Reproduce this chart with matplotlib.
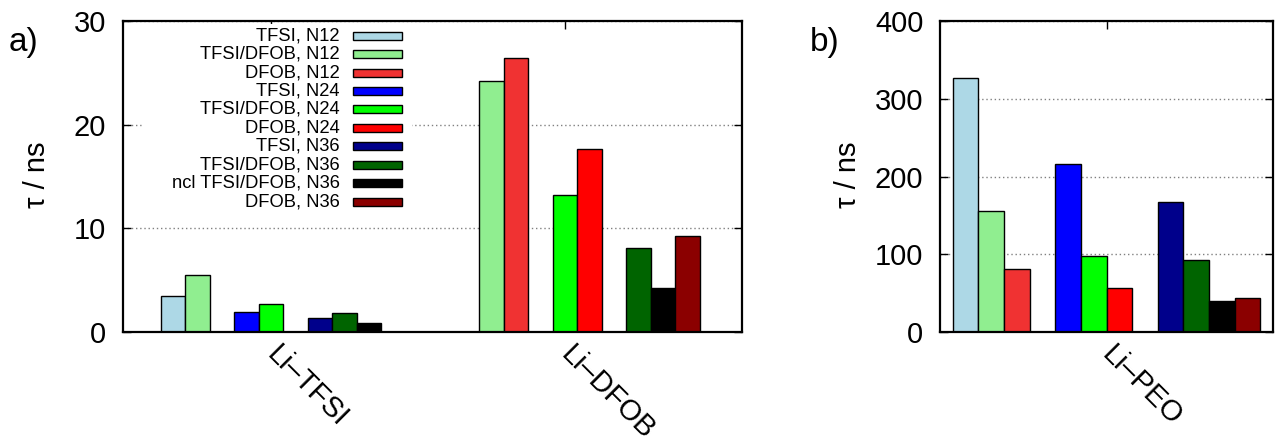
import matplotlib
matplotlib.use("Agg")
import matplotlib.pyplot as plt
from matplotlib.patches import Rectangle

plt.rcParams['font.family'] = ['Liberation Sans', 'DejaVu Sans']

series = ['TFSI, N12', 'TFSI/DFOB, N12', 'DFOB, N12',
          'TFSI, N24', 'TFSI/DFOB, N24', 'DFOB, N24',
          'TFSI, N36', 'TFSI/DFOB, N36', 'ncl TFSI/DFOB, N36', 'DFOB, N36']
colors = ['#add8e6', '#90ee90', '#f03232',
          '#0000ff', '#00ff00', '#ff0000',
          '#00008b', '#006400', '#000000', '#8b0000']

groups_a = ['Li\u2013TFSI', 'Li\u2013DFOB']
li_tfsi = [3.44, 5.53, None, 1.9, 2.67, None, 1.38, 1.8, 0.9, None]
li_dfob = [None, 24.2, 26.4, None, 13.2, 17.7, None, 8.1, 4.25, 9.3]

groups_b = ['Li\u2013PEO']
li_peo = [326.4, 155.0, 81.4, 215.8, 98.2, 57.2, 166.7, 93.0, 39.5, 43.9]

W, H = 1275, 438
fig = plt.figure(figsize=(W / 100, H / 100), dpi=100)
ax1 = fig.add_axes([123 / W, 1 - 332 / H, (742 - 123) / W, (332 - 21) / H])
ax2 = fig.add_axes([940 / W, 1 - 332 / H, (1273 - 940) / W, (332 - 21) / H])

def style_axes(ax, ymax, step):
    ax.set_ylim(0, ymax)
    ax.set_yticks(range(0, ymax + 1, step))
    ax.set_axisbelow(True)
    ax.yaxis.grid(True, linestyle=(0, (1, 2)), color='gray', lw=1)
    for s in ax.spines.values():
        s.set_linewidth(1.6)
    ax.tick_params(axis='y', direction='in', left=True, right=True,
                   length=6, width=1, labelsize=21, pad=12)
    ax.tick_params(axis='x', direction='in', top=True, bottom=False,
                   labelbottom=True, length=6, width=1, labelsize=21, pad=13)

def rotate_labels(ax):
    for lab in ax.get_xticklabels():
        lab.set_rotation(-45)
        lab.set_ha('left')
        lab.set_va('center')
        lab.set_rotation_mode('anchor')

# panel a: clusters of 10 slots, 12 apart
for c, vals in enumerate([li_tfsi, li_dfob]):
    for i, v in enumerate(vals):
        if v is None:
            continue
        ax1.bar(c * 12 + i, v, width=1, color=colors[i], edgecolor='black',
                lw=1, zorder=2)
ax1.set_xlim(-2.04, 23.22)
style_axes(ax1, 30, 10)
ax1.set_xticks([c * 12 + 4 for c in range(len(groups_a))], groups_a)
rotate_labels(ax1)

# legend drawn by hand, right aligned text
def ax_x(px):
    return (px - 123) / (742 - 123)

def ax_y(py):
    return (332 - py) / (332 - 21)

ax1.add_patch(Rectangle((ax_x(142), ax_y(212)), ax_x(412) - ax_x(142),
                        ax_y(24) - ax_y(212), transform=ax1.transAxes,
                        facecolor='white', edgecolor='none', zorder=1))
for i, name in enumerate(series):
    yc = 35.7 + 18.44 * i
    ax1.text(ax_x(340), ax_y(yc), name, ha='right', va='center',
             fontsize=13.2, transform=ax1.transAxes, zorder=3)
    ax1.add_patch(Rectangle((ax_x(352.7), ax_y(yc + 4)), ax_x(401.7) - ax_x(352.7),
                            ax_y(yc - 4) - ax_y(yc + 4), transform=ax1.transAxes,
                            facecolor=colors[i], edgecolor='black', lw=1, zorder=3))

# panel b: one cluster, gap slot between N groups
slots_b = [0, 1, 2, 4, 5, 6, 8, 9, 10, 11]
for i, v in enumerate(li_peo):
    ax2.bar(slots_b[i], v, width=1, color=colors[i], edgecolor='black',
            lw=1, zorder=2)
ax2.set_xlim(-1, 12)
style_axes(ax2, 400, 100)
ax2.set_xticks([5.5], groups_b)
rotate_labels(ax2)

fig.text(37 / W, 1 - 175 / H, '\u03c4 / ns', rotation=90, ha='center', va='center', fontsize=21)
fig.text(848 / W, 1 - 175 / H, '\u03c4 / ns', rotation=90, ha='center', va='center', fontsize=21)
fig.text(23 / W, 1 - 42 / H, 'a)', ha='center', va='center', fontsize=24)
fig.text(825 / W, 1 - 42 / H, 'b)', ha='center', va='center', fontsize=24)

fig.savefig('out.png', dpi=100)
